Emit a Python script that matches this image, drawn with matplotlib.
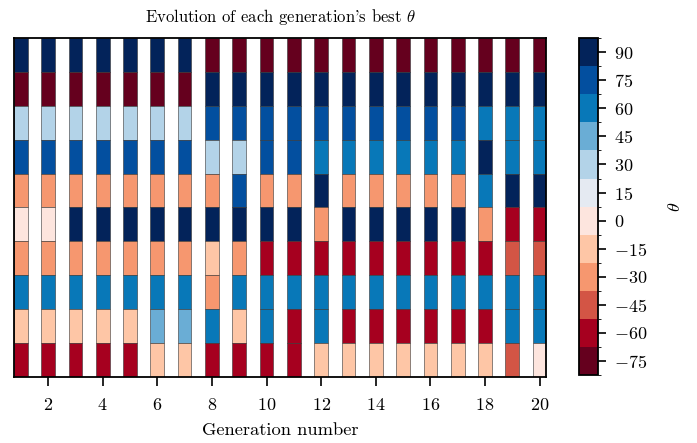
import numpy as np
import matplotlib
matplotlib.use("Agg")
import matplotlib.pyplot as plt
from matplotlib.colors import ListedColormap, BoundaryNorm
from matplotlib.cm import ScalarMappable

plt.rcParams['font.family'] = 'serif'
plt.rcParams['font.serif'] = ['cmr10', 'DejaVu Serif']
plt.rcParams['mathtext.fontset'] = 'cm'
plt.rcParams['axes.formatter.use_mathtext'] = True

generations = list(range(1, 21))
# theta values per gene row, listed top row first
row1 = [90]*7 + [-75]*13
row2 = [-75]*7 + [90]*13
row3 = [30]*7 + [75]*10 + [60]*3
row4 = [75]*7 + [30, 30, 75, 75] + [60]*6 + [90, 60, 60]
row5 = [-30]*8 + [75, -30, -30, 90] + [-30]*5 + [60, 90, 90]
row6 = [0, 0] + [90]*9 + [-30] + [90]*5 + [-30, -60, -60]
row7 = [-30]*7 + [-15, -30] + [-60]*9 + [-45, -45]
row8 = [60]*7 + [-30] + [60]*12
row9 = [-15]*5 + [45, 45, 60, -15, 60, -60, 60] + [-60]*6 + [60, 60]
row10 = [-60]*5 + [-15, -15] + [-60]*4 + [-15]*7 + [-45, 0]
rows = [row1, row2, row3, row4, row5, row6, row7, row8, row9, row10]

level_ticks = list(range(-75, 91, 15))
level_colors = ['#65001e', '#a6001f', '#d35545', '#f6976f', '#fec6a6', '#fde5de',
                '#e5eaf2', '#b3d3e8', '#6aadd5', '#0878b8', '#034f9f', '#03235a']
cmap = ListedColormap(level_colors)
bounds = np.arange(-82.5, 97.6, 15)
norm = BoundaryNorm(bounds, cmap.N)

fig = plt.figure(figsize=(6.97, 4.43), dpi=100)
ax = fig.add_axes([0.020, 0.150, 0.764, 0.7635])
cax = fig.add_axes([0.8307, 0.154, 0.027, 0.7595])

n = len(rows)
for i, r in enumerate(rows):
    ax.bar(generations, [1]*len(generations), width=0.5, bottom=n - 1 - i,
           color=cmap(norm(np.array(r))), edgecolor='#333333', linewidth=0.4)

ax.set_xlim(0.75, 20.25)
ax.set_ylim(0, n)
ax.set_yticks([])
ax.set_xticks(range(2, 21, 2))
ax.tick_params(axis='x', length=6.5, width=1.2, labelsize=13, pad=8)
for s in ax.spines.values():
    s.set_linewidth(1.3)
ax.set_xlabel('Generation number', fontsize=13.3, labelpad=7)
ax.set_title(r"Evolution of each generation's best $\theta$", fontsize=12, pad=12)

sm = ScalarMappable(norm=norm, cmap=cmap)
cb = fig.colorbar(sm, cax=cax, ticks=level_ticks)
cb.ax.tick_params(length=6, width=1.2, labelsize=13, pad=6)
cb.outline.set_linewidth(1.3)
cb.set_label(r'$\theta$', fontsize=13, labelpad=14)

fig.savefig('out.png', dpi=100)
